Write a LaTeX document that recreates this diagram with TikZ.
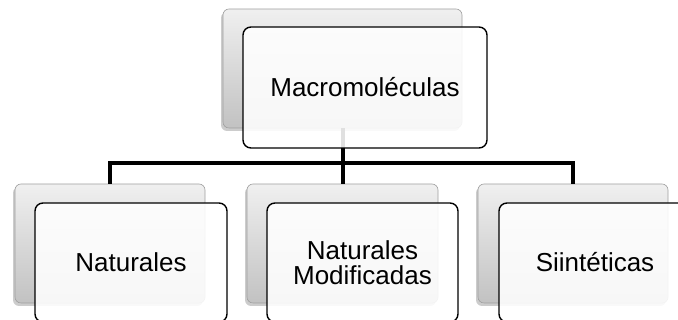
\documentclass[tikz,border=0pt]{standalone}
\usepackage{fontspec}
\setmainfont{Liberation Sans}
\usetikzlibrary{shadows}
\begin{document}
\begin{tikzpicture}[x=1pt,y=1pt,
  backbox/.style={draw=gray!75, line width=0.6pt, rounded corners=6pt,
    top color=gray!12, bottom color=gray!48, inner sep=0pt,
    drop shadow={shadow xshift=-2pt, shadow yshift=-3pt, opacity=0.4, fill=gray}},
  frontbox/.style={draw=black, line width=1.4pt, rounded corners=8pt,
    fill=white, fill opacity=0.88, text opacity=1, inner sep=0pt,
    align=center, font=\fontsize{26}{25}\selectfont},
  conn/.style={draw=black, line width=4pt}]
\clip (0,0) rectangle (678,320);
% back boxes
\node[backbox, minimum width=239pt, minimum height=119pt] (mback) at (342.5,251.5) {};
\node[backbox, minimum width=190pt, minimum height=119pt] (lback) at (110,76.5) {};
\node[backbox, minimum width=191pt, minimum height=119pt] (cback) at (342.5,76.5) {};
\node[backbox, minimum width=190pt, minimum height=119pt] (rback) at (573,76.5) {};
% connectors
\coordinate (bar) at (0,157);
\draw[conn] (mback.south) -- (mback.south |- bar) -| (lback.north);
\draw[conn] (mback.south) -- (mback.south |- bar) -| (rback.north);
\draw[conn] (mback.south) -- (cback.north);
% front boxes
\node[frontbox, minimum width=244pt, minimum height=121pt] (mfront) at (365,232.5) {Macromoléculas};
\node[frontbox, minimum width=192pt, minimum height=119pt] (lfront) at (131,57.5) {Naturales};
\node[frontbox, minimum width=191pt, minimum height=119pt] (cfront) at (362.5,57.5) {Naturales\\Modificadas};
\node[frontbox, minimum width=192pt, minimum height=119pt] (rfront) at (595,57.5) {Siintéticas};
\end{tikzpicture}
\end{document}
